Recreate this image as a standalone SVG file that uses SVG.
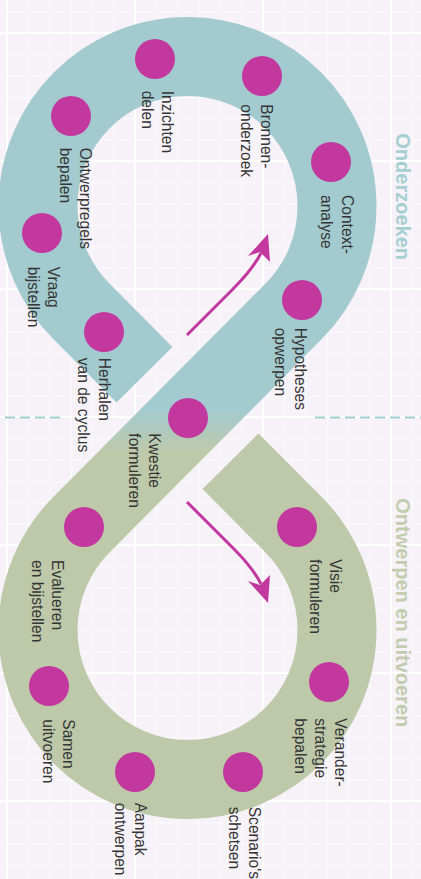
<svg xmlns="http://www.w3.org/2000/svg" width="421" height="879" viewBox="0 0 421 879">
  <defs>
    <pattern id="minorGrid" patternUnits="userSpaceOnUse" x="7" y="33" width="21.333" height="21.333">
      <path d="M0.5,0 V21.333 M0,0.5 H21.333" stroke="#ffffff" stroke-opacity="0.6" stroke-width="1" fill="none"/>
    </pattern>
    <linearGradient id="crossFade" gradientUnits="userSpaceOnUse" x1="0" y1="410" x2="0" y2="452">
      <stop offset="0" stop-color="#a3cbcf"/>
      <stop offset="1" stop-color="#bec9aa"/>
    </linearGradient>
    <style>
      .band { fill: none; stroke-width: 79; stroke-linecap: butt; }
      .dot { fill: #c2389f; }
      .lbl { font-family: "Liberation Sans", Arial, sans-serif; font-size: 15.6px; fill: #353535; }
      .title { font-family: "Liberation Sans", Arial, sans-serif; font-size: 20px; font-weight: bold; }
      .arrow { fill: none; stroke: #c2389f; stroke-width: 3; }
      .head { fill: #c2389f; }
    </style>
  </defs>

  <!-- background and grid -->
  <rect width="421" height="879" fill="#f6f2f8"/>
  <rect width="421" height="879" fill="url(#minorGrid)"/>
  <path d="M7,0 V879 M135,0 V879 M263,0 V879 M391,0 V879 M0,33 H421 M0,161 H421 M0,289 H421 M0,417 H421 M0,545 H421 M0,673 H421 M0,801 H421" stroke="#ffffff" stroke-width="2" fill="none"/>

  <!-- section divider -->
  <g id="divider" stroke="#9fcfcd" stroke-width="2" stroke-dasharray="10 5">
    <line x1="5" y1="417.5" x2="62" y2="417.5"/>
    <line x1="315" y1="417.5" x2="421" y2="417.5"/>
  </g>

  <!-- figure-eight band -->
  <g id="loop">
    <path class="band" stroke="#a3cbcf" d="M144.5,374.75 L81.5,311.43 A149.5,149.5 0 1 1 293.5,311.43"/>
    <path class="band" stroke="url(#crossFade)" d="M294.2,310.72 L80.8,525.28"/>
    <path class="band" stroke="#bec9aa" d="M81.5,524.57 A149.5,149.5 0 1 0 293.5,524.57 L230.5,461.25"/>
  </g>

  <!-- direction arrows -->
  <g id="connectors">
    <path class="arrow" d="M187,335 L233,289 C246,276 255,265 261,253"/>
    <polygon class="head" points="268,234 248,256 260,252 270,262"/>
    <path class="arrow" d="M187,502 L233,548 C246,561 255,572 261,584"/>
    <polygon class="head" points="268,603 248,581 260,585 270,575"/>
  </g>

  <!-- section titles -->
  <g id="title-onderzoeken">
    <text class="title" fill="#a6cfd1" transform="translate(395.5,133.3) rotate(90)">Onderzoeken</text>
  </g>
  <g id="title-ontwerpen">
    <text class="title" fill="#c2ccae" transform="translate(395.5,498.3) rotate(90)">Ontwerpen en uitvoeren</text>
  </g>

  <!-- steps -->
  <g id="inzichten-delen">
    <circle class="dot" cx="155" cy="59" r="20"/>
    <text class="lbl" transform="translate(161.7,90.7) rotate(90)"><tspan x="0" y="0">Inzichten</tspan><tspan x="0" y="20">delen</tspan></text>
  </g>
  <g id="bronnenonderzoek">
    <circle class="dot" cx="262" cy="76" r="20"/>
    <text class="lbl" transform="translate(261,104.3) rotate(90)"><tspan x="0" y="0">Bronnen-</tspan><tspan x="0" y="20.3">onderzoek</tspan></text>
  </g>
  <g id="ontwerpregels-bepalen">
    <circle class="dot" cx="71" cy="116" r="20"/>
    <text class="lbl" transform="translate(80,147.7) rotate(90)"><tspan x="0" y="0">Ontwerpregels</tspan><tspan x="0" y="20.5">bepalen</tspan></text>
  </g>
  <g id="contextanalyse">
    <circle class="dot" cx="331" cy="162" r="20"/>
    <text class="lbl" transform="translate(341.7,195) rotate(90)"><tspan x="0" y="0">Context-</tspan><tspan x="0" y="20.5">analyse</tspan></text>
  </g>
  <g id="vraag-bijstellen">
    <circle class="dot" cx="42" cy="233" r="20"/>
    <text class="lbl" transform="translate(48.3,266.7) rotate(90)"><tspan x="0" y="0">Vraag</tspan><tspan x="0" y="20">bijstellen</tspan></text>
  </g>
  <g id="hypotheses-opwerpen">
    <circle class="dot" cx="302" cy="300" r="20"/>
    <text class="lbl" transform="translate(295,327.7) rotate(90)"><tspan x="0" y="0">Hypotheses</tspan><tspan x="0" y="20">opwerpen</tspan></text>
  </g>
  <g id="herhalen">
    <circle class="dot" cx="104" cy="332" r="20"/>
    <text class="lbl" transform="translate(98.5,357.7) rotate(90)"><tspan x="0" y="0">Herhalen</tspan><tspan x="0" y="20.5">van de cyclus</tspan></text>
  </g>
  <g id="kwestie-formuleren">
    <circle class="dot" cx="188" cy="418" r="20"/>
    <text class="lbl" transform="translate(149.3,433.3) rotate(90)"><tspan x="0" y="0">Kwestie</tspan><tspan x="0" y="20">formuleren</tspan></text>
  </g>
  <g id="evalueren-bijstellen">
    <circle class="dot" cx="84" cy="527" r="20"/>
    <text class="lbl" transform="translate(51.7,560) rotate(90)"><tspan x="0" y="0">Evalueren</tspan><tspan x="0" y="20">en bijstellen</tspan></text>
  </g>
  <g id="visie-formuleren">
    <circle class="dot" cx="297" cy="527" r="20"/>
    <text class="lbl" transform="translate(330,559.3) rotate(90)"><tspan x="0" y="0">Visie</tspan><tspan x="0" y="20">formuleren</tspan></text>
  </g>
  <g id="veranderstrategie-bepalen">
    <circle class="dot" cx="329" cy="682" r="20"/>
    <text class="lbl" transform="translate(335,718.3) rotate(90)"><tspan x="0" y="0">Verander-</tspan><tspan x="0" y="20">strategie</tspan><tspan x="0" y="40">bepalen</tspan></text>
  </g>
  <g id="samen-uitvoeren">
    <circle class="dot" cx="49" cy="686" r="20"/>
    <text class="lbl" transform="translate(63.3,719.3) rotate(90)"><tspan x="0" y="0">Samen</tspan><tspan x="0" y="20">uitvoeren</tspan></text>
  </g>
  <g id="aanpak-ontwerpen">
    <circle class="dot" cx="135" cy="772" r="20"/>
    <text class="lbl" transform="translate(135,802.7) rotate(90)"><tspan x="0" y="0">Aanpak</tspan><tspan x="0" y="20">ontwerpen</tspan></text>
  </g>
  <g id="scenarios-schetsen">
    <circle class="dot" cx="243" cy="772" r="20"/>
    <text class="lbl" transform="translate(249.3,806.7) rotate(90)"><tspan x="0" y="0">Scenario's</tspan><tspan x="0" y="20">schetsen</tspan></text>
  </g>
</svg>
